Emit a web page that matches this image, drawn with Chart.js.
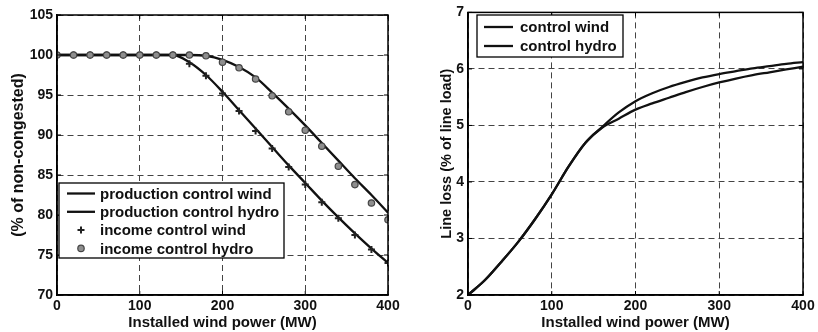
<!DOCTYPE html>
<html>
<head>
<meta charset="utf-8">
<script src="https://cdn.jsdelivr.net/npm/chart.js@4.4.1/dist/chart.umd.min.js"></script>
<style>
  html, body { margin: 0; padding: 0; background: #fff; }
  .wrap { position: absolute; top: 0; width: 409px; height: 332px; }
</style>
</head>
<body>
<div class="wrap" style="left:0"><canvas id="leftChart" width="409" height="332"></canvas></div>
<div class="wrap" style="left:409px"><canvas id="rightChart" width="409" height="332"></canvas></div>
<script>
// installed wind power (MW), sampled every 20 MW
const powerMW = [0, 20, 40, 60, 80, 100, 120, 140, 160, 180, 200, 220, 240, 260, 280, 300, 320, 340, 360, 380, 400];

// left plot: production / income (% of non-congested)
const prodControlWind  = [100, 100, 100, 100, 100, 100, 100, 100, 99.1, 97.5, 95.4, 93.1, 90.8, 88.5, 86.2, 84.0, 81.8, 79.7, 77.7, 75.8, 74.0];
const prodControlHydro = [100, 100, 100, 100, 100, 100, 100, 100, 100, 99.9, 99.4, 98.5, 97.2, 95.3, 93.3, 91.2, 89.0, 86.8, 84.6, 82.5, 80.3];
const incomeControlWind  = [100, 100, 100, 100, 100, 100, 100, 100, 98.9, 97.4, 95.2, 93.0, 90.5, 88.3, 86.0, 83.8, 81.6, 79.6, 77.5, 75.7, 74.0];
const incomeControlHydro = [100, 100, 100, 100, 100, 100, 100, 100, 100, 99.9, 99.1, 98.4, 97.0, 94.9, 92.9, 90.6, 88.6, 86.1, 83.8, 81.5, 79.4];

// right plot: line loss (% of line load)
const lossControlWind  = [2.0, 2.26, 2.59, 2.94, 3.34, 3.78, 4.27, 4.69, 4.97, 5.23, 5.43, 5.57, 5.68, 5.77, 5.85, 5.91, 5.96, 6.01, 6.05, 6.09, 6.12];
const lossControlHydro = [2.0, 2.26, 2.59, 2.94, 3.34, 3.78, 4.27, 4.69, 4.96, 5.12, 5.28, 5.39, 5.49, 5.59, 5.68, 5.76, 5.83, 5.89, 5.94, 5.99, 6.04];

const xTicks = [0, 100, 200, 300, 400];

const FONT = '"Liberation Sans", Arial, sans-serif';
Chart.defaults.font.family = FONT;
Chart.defaults.font.size = 14;
Chart.defaults.font.weight = 'bold';
Chart.defaults.color = '#111';

function pts(ys) {
  return powerMW.map((x, i) => ({ x: x, y: ys[i] }));
}

// closed axes box with inward ticks, like matlab
const boxPlugin = {
  id: 'axesBox',
  afterDraw(chart) {
    const a = chart.chartArea;
    const ctx = chart.ctx;
    const xs = chart.scales.x, ys = chart.scales.y;
    ctx.save();
    ctx.strokeStyle = '#000';
    ctx.lineWidth = 1;
    ctx.beginPath();
    xs.ticks.forEach(t => {
      const px = xs.getPixelForValue(t.value);
      ctx.moveTo(px, a.bottom); ctx.lineTo(px, a.bottom - 4);
      ctx.moveTo(px, a.top); ctx.lineTo(px, a.top + 4);
    });
    ys.ticks.forEach(t => {
      const py = ys.getPixelForValue(t.value);
      ctx.moveTo(a.left, py); ctx.lineTo(a.left + 4, py);
      ctx.moveTo(a.right, py); ctx.lineTo(a.right - 4, py);
    });
    ctx.stroke();
    ctx.lineWidth = 1.5;
    ctx.strokeRect(a.left, a.top, a.right - a.left, a.bottom - a.top);
    ctx.restore();
  }
};

// boxed legend inside the plot
const boxLegend = {
  id: 'boxLegend',
  afterDraw(chart, args, opts) {
    const ctx = chart.ctx;
    ctx.save();
    ctx.fillStyle = '#fff';
    ctx.fillRect(opts.x, opts.y, opts.w, opts.h);
    ctx.strokeStyle = '#000';
    ctx.lineWidth = 1.3;
    ctx.strokeRect(opts.x, opts.y, opts.w, opts.h);
    ctx.font = 'bold 15px ' + FONT;
    ctx.textBaseline = 'middle';
    chart.data.datasets.forEach((ds, i) => {
      const y = opts.rowY + i * opts.gap;
      if (ds.showLine === false) {
        ctx.fillStyle = ds.backgroundColor;
        ctx.strokeStyle = ds.borderColor;
        ctx.lineWidth = ds.borderWidth;
        Chart.helpers.drawPoint(ctx, { pointStyle: ds.pointStyle, radius: ds.pointRadius, rotation: 0, borderWidth: ds.borderWidth },
          (opts.x0 + opts.x1) / 2, y);
      } else {
        ctx.strokeStyle = ds.borderColor;
        ctx.lineWidth = ds.borderWidth;
        ctx.beginPath();
        ctx.moveTo(opts.x0, y);
        ctx.lineTo(opts.x1, y);
        ctx.stroke();
      }
      ctx.fillStyle = '#111';
      ctx.fillText(ds.label, opts.tx, y + 1);
    });
    ctx.restore();
  }
};

function xAxis() {
  return {
    type: 'linear', min: 0, max: 400,
    afterBuildTicks: s => { s.ticks = xTicks.map(v => ({ value: v })); },
    grid: { color: '#444', lineWidth: 1, drawTicks: false },
    border: { color: '#000', width: 1.5, dash: [6, 4] },
    ticks: { padding: 3 },
    title: { display: true, text: 'Installed wind power (MW)', font: { size: 15 }, padding: { top: 0, bottom: 0 } },
    afterFit: s => { s.height = 37; }
  };
}

function yAxis(min, max, step, text, titleSize, titlePad, width) {
  return {
    min: min, max: max,
    ticks: { stepSize: step, padding: 4 },
    grid: { color: '#444', lineWidth: 1, drawTicks: false },
    border: { color: '#000', width: 1.5, dash: [6, 4] },
    title: { display: true, text: text, font: { size: titleSize }, padding: { top: titlePad, bottom: 0 } },
    afterFit: s => { s.width = width; }
  };
}

function lineSet(label, ys) {
  return {
    label: label, data: pts(ys), borderColor: '#111', backgroundColor: '#111',
    borderWidth: 2.3, pointRadius: 0, cubicInterpolationMode: 'monotone', order: 3
  };
}

new Chart(document.getElementById('leftChart'), {
  type: 'line',
  data: {
    datasets: [
      lineSet('production control wind', prodControlWind),
      lineSet('production control hydro', prodControlHydro),
      {
        label: 'income control wind', data: pts(incomeControlWind), showLine: false,
        pointStyle: 'cross', pointRadius: 3.5, borderWidth: 2, borderColor: '#222', backgroundColor: '#222', order: 2
      },
      {
        label: 'income control hydro', data: pts(incomeControlHydro), showLine: false,
        pointStyle: 'circle', pointRadius: 3.2, borderWidth: 1.2, borderColor: '#444', backgroundColor: '#8e8e8e', order: 1
      }
    ]
  },
  options: {
    responsive: false, animation: false, devicePixelRatio: 1,
    layout: { padding: { left: 0, top: 15, right: 21, bottom: 0 } },
    plugins: {
      legend: { display: false }, tooltip: { enabled: false },
      boxLegend: { x: 59, y: 183, w: 225, h: 75, rowY: 193.5, gap: 18.3, x0: 67, x1: 95, tx: 100 }
    },
    scales: {
      x: xAxis(),
      y: yAxis(70, 105, 5, '(% of non-congested)', 16, 8.5, 57)
    }
  },
  plugins: [boxPlugin, boxLegend]
});

new Chart(document.getElementById('rightChart'), {
  type: 'line',
  data: {
    datasets: [
      lineSet('control wind', lossControlWind),
      lineSet('control hydro', lossControlHydro)
    ]
  },
  options: {
    responsive: false, animation: false, devicePixelRatio: 1,
    layout: { padding: { left: 0, top: 8, right: 15, bottom: 0 } },
    plugins: {
      legend: { display: false }, tooltip: { enabled: false },
      boxLegend: { x: 68, y: 15, w: 146, h: 42, rowY: 27, gap: 19, x0: 75, x1: 104, tx: 111 }
    },
    scales: {
      x: xAxis(),
      y: yAxis(2, 7, 1, 'Line loss (% of line load)', 14.5, 29.5, 59)
    }
  },
  plugins: [boxPlugin, boxLegend]
});
</script>
</body>
</html>
